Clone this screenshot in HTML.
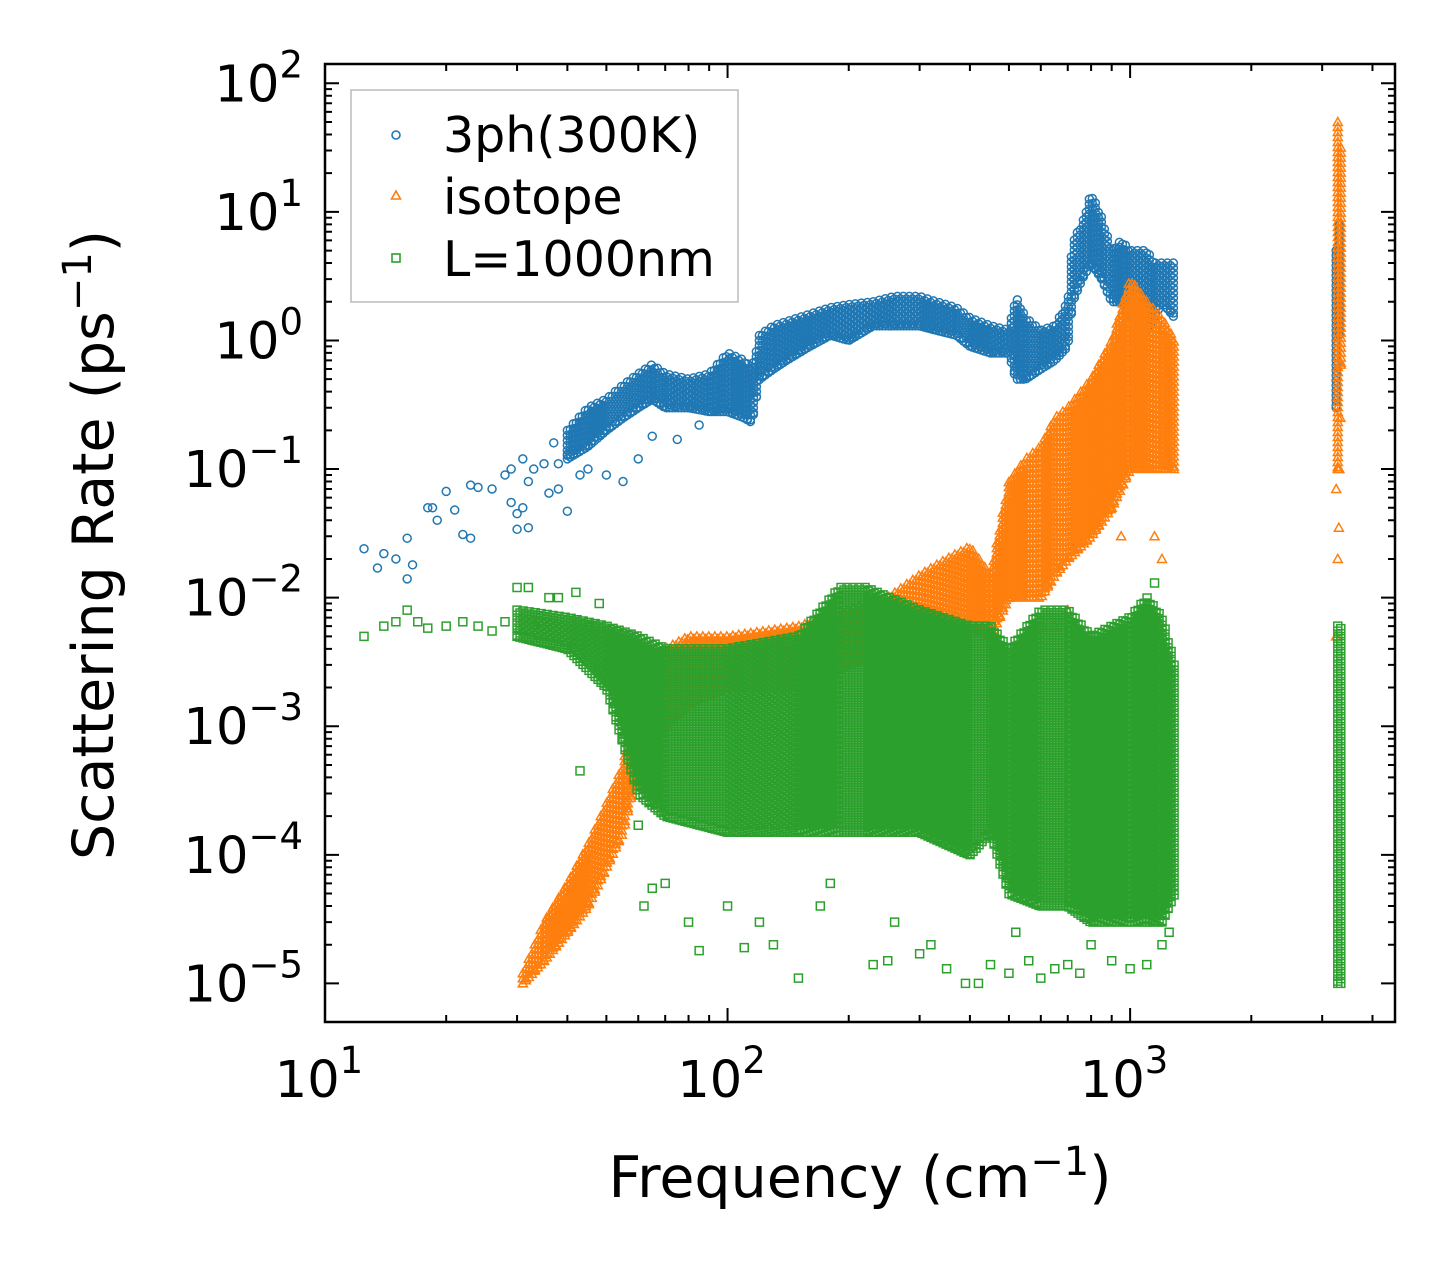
<!DOCTYPE html>
<html><head><meta charset="utf-8">
<style>
html,body{margin:0;padding:0;background:#fff;}
svg{display:block;font-family:"DejaVu Sans","Liberation Sans",sans-serif;}
</style></head>
<body>
<svg id="chart" width="1455" height="1271" viewBox="0 0 1455 1271" xmlns="http://www.w3.org/2000/svg">
<rect width="1455" height="1271" fill="#fff"/>
<g id="marks"></g>
<g id="axes"></g>
<text x="860" y="1197" font-size="57" text-anchor="middle">Frequency (cm<tspan dy="-22" font-size="40">−1</tspan><tspan dy="22">)</tspan></text>
<text transform="translate(113,545) rotate(-90)" font-size="57" text-anchor="middle">Scattering Rate (ps<tspan dy="-22" font-size="40">−1</tspan><tspan dy="22">)</tspan></text>
<g>
<rect x="351" y="90" width="387" height="212" fill="#fff" stroke="#aaa" stroke-width="1.2"/>
<g>
<circle cx="396" cy="135" r="4" fill="none" stroke="#1f77b4" stroke-width="1.6"/>
<text x="443" y="152" font-size="49">3ph(300K)</text></g>
<g>
<path d="M396,191 L400.5,199 L391.5,199 Z" fill="none" stroke="#ff7f0e" stroke-width="1.6"/>
<text x="443" y="214" font-size="49">isotope</text></g>
<g>
<rect x="392" y="254" width="8" height="8" fill="none" stroke="#2ca02c" stroke-width="1.6"/>
<text x="443" y="276" font-size="49">L=1000nm</text></g>
</g>
</svg>
<script>
// ---- data ----
const blueSparseX=[12.5,13.5,14,15,16,16,16.5,18,18.5,19,20,21,22,23,23,24,26,28,29,29,30,30,31,31,32,32,33,35,36,37,38,38,40,40,42,43,45,50,55,60,65,75,85];
const blueSparseY=[0.024,0.017,0.022,0.02,0.029,0.014,0.018,0.05,0.05,0.04,0.067,0.048,0.031,0.029,0.075,0.072,0.07,0.09,0.1,0.055,0.034,0.045,0.12,0.05,0.035,0.08,0.1,0.11,0.065,0.16,0.11,0.07,0.13,0.047,0.14,0.09,0.1,0.09,0.08,0.12,0.18,0.17,0.22];
const blueBandX=[40,45,50,55,60,65,70,80,90,100,110,115,120,130,140,160,180,200,230,260,300,330,370,400,450,500,520,550,600,650,700,720,760,800,850,900,950,1000,1050,1100,1150,1200,1290];
const blueLow=[0.12,0.15,0.2,0.25,0.3,0.35,0.3,0.3,0.28,0.28,0.25,0.23,0.5,0.6,0.7,0.9,1.1,1.0,1.3,1.3,1.3,1.2,1.1,0.9,0.8,0.8,0.5,0.5,0.6,0.7,0.9,2,3,4,3,2,2,1.5,2,1.2,1.5,2,1.5];
const blueHigh=[0.2,0.3,0.35,0.45,0.55,0.65,0.55,0.5,0.55,0.8,0.7,0.6,1.1,1.3,1.4,1.6,1.8,1.9,2.0,2.2,2.2,2.0,1.8,1.5,1.3,1.2,2.2,1.5,1.2,1.3,2.0,6,8,14,9,5,6,5,5,5,4,4,4];
const blueHiX=[3250,3350];const blueHiLow=[0.3,3];const blueHiHigh=[5,12];

const orangeBandX=[31,35,40,45,50,55,60,70,80,100,150,200,250,300,350,400,450,500,550,600,650,700,800,900,1000,1100,1200,1290];
const orangeLow=[1e-5,1.5e-5,2.5e-5,4e-5,8e-5,1.5e-4,5e-4,1e-3,1.5e-3,2e-3,2e-3,3e-3,4e-3,5e-3,6e-3,6e-3,5e-3,1e-2,1e-2,1e-2,1.5e-2,0.02,0.03,0.05,0.1,0.1,0.1,0.1];
const orangeHigh=[1.2e-5,3e-5,6e-5,1.2e-4,2.5e-4,5e-4,2e-3,4e-3,5e-3,5e-3,6e-3,8e-3,1e-2,1.5e-2,2e-2,2.5e-2,1.5e-2,0.08,0.12,0.15,0.25,0.3,0.5,1,3,2,1.5,1];
const orangeHiX=[3280,3350];const orangeHiLow=[0.1,1];const orangeHiHigh=[50,30];
const orangeSparseX=[3250,3280,3300,3250,3330,3310,1150,1200,900,950,700,650,600];
const orangeSparseY=[0.005,0.02,0.035,0.07,0.25,0.1,0.03,0.02,0.05,0.03,0.008,0.006,0.006];

const greenSparseX=[12.5,14,15,16,17,18,20,22,24,26,28,30,32,34,36,38,40,42,43,45,48,50,52,55,60,62,65,70,80,85,100,110,120,130,150,170,180,230,250,260,300,320,350,390,420,450,500,520,560,600,650,700,750,800,900,1000,1100,1150,1200,1250];
const greenSparseY=[0.005,0.006,0.0065,0.008,0.0065,0.0058,0.006,0.0065,0.006,0.0055,0.0065,0.012,0.012,0.0065,0.01,0.01,0.0045,0.011,0.00045,0.006,0.009,0.003,0.0015,0.0008,0.00017,4e-5,5.5e-5,6e-5,3e-5,1.8e-5,4e-5,1.9e-5,3e-5,2e-5,1.1e-5,4e-5,6e-5,1.4e-5,1.5e-5,3e-5,1.7e-5,2e-5,1.3e-5,1e-5,1e-5,1.4e-5,1.2e-5,2.5e-5,1.5e-5,1.1e-5,1.3e-5,1.4e-5,1.2e-5,2e-5,1.5e-5,1.3e-5,1.4e-5,0.013,2e-5,2.5e-5];
const greenBandX=[30,40,50,60,70,100,150,190,220,300,400,450,500,600,700,800,900,1000,1100,1200,1290];
const greenLow=[0.005,0.004,0.002,3e-4,2e-4,1.5e-4,1.5e-4,1.5e-4,1.5e-4,1.5e-4,1e-4,1.5e-4,5e-5,4e-5,4e-5,3e-5,3e-5,3e-5,3e-5,3e-5,5e-5];
const greenHigh=[0.008,0.007,0.006,0.005,0.004,0.004,0.005,0.012,0.012,0.008,0.006,0.006,0.004,0.008,0.008,0.005,0.006,0.007,0.01,0.007,0.003];
const greenHiX=[3280,3350];const greenHiLow=[1e-5,1e-5];const greenHiHigh=[0.006,0.006];

const xTickVals=[10,100,1000];const xTickExp=["1","2","3"];
const yTickVals=[100,10,1,0.1,0.01,0.001,1e-4,1e-5];const yTickExp=["2","1","0","−1","−2","−3","−4","−5"];

// ---- axes ----
const L=325,R=1395,T=64,B=1022;
const xMin=Math.log10(10),xMax=Math.log10(4550);
const yMin=-5.3,yMax=2.15;
function X(v){return L+(Math.log10(v)-xMin)/(xMax-xMin)*(R-L);}
function Y(v){return B-(Math.log10(v)-yMin)/(yMax-yMin)*(B-T);}
const NS="http://www.w3.org/2000/svg";
const marks=document.getElementById('marks'),axes=document.getElementById('axes');
function el(t,a,p){const e=document.createElementNS(NS,t);for(const k in a)e.setAttribute(k,a[k]);p.appendChild(e);return e;}

function markerPath(kind,x,y){
  if(kind==='c'){const r=4;return `M${x-r},${y}a${r},${r} 0 1,0 ${2*r},0a${r},${r} 0 1,0 ${-2*r},0`;}
  if(kind==='t'){return `M${x},${y-4.5}L${x+4.5},${y+3.5}L${x-4.5},${y+3.5}Z`;}
  return `M${x-4},${y-4}h8v8h-8Z`;
}
function interp(xs,vs,x){
  const lx=Math.log10(x);
  if(lx<=Math.log10(xs[0]))return vs[0];
  for(let i=0;i<xs.length-1;i++){
    const a=Math.log10(xs[i]),b=Math.log10(xs[i+1]);
    if(lx>=a&&lx<=b){const t=(lx-a)/(b-a);return Math.pow(10,Math.log10(vs[i])*(1-t)+Math.log10(vs[i+1])*t);}
  }
  return vs[vs.length-1];
}
function series(name,color,kind,bandX,low,high,spX,spY,step){
  let d='';
  const px0=X(bandX[0]),px1=X(bandX[bandX.length-1]);
  let col=0;
  for(let px=px0;px<=px1+0.01;px+=step){
    const f=Math.pow(10,xMin+(px-L)/(R-L)*(xMax-xMin));
    const y1=Y(interp(bandX,low,f)),y2=Y(interp(bandX,high,f));
    const off=(col%2)*2.5;
    for(let y=y2+off;y<=y1;y+=5)d+=markerPath(kind,px,y);
    d+=markerPath(kind,px,y1);
    col++;
  }
  if(spX)for(let i=0;i<spX.length;i++)d+=markerPath(kind,X(spX[i]),Y(spY[i]));
  const p=el('path',{d:d,fill:'none',stroke:color,'stroke-width':1.5},marks);
  
  
}
series('series-3ph','#1f77b4','c',blueBandX,blueLow,blueHigh,blueSparseX,blueSparseY,3);
series('series-3ph-high','#1f77b4','c',blueHiX,blueHiLow,blueHiHigh,null,null,3);
series('series-isotope','#ff7f0e','t',orangeBandX,orangeLow,orangeHigh,orangeSparseX,orangeSparseY,3);
series('series-isotope-high','#ff7f0e','t',orangeHiX,orangeHiLow,orangeHiHigh,null,null,3);
series('series-boundary','#2ca02c','s',greenBandX,greenLow,greenHigh,greenSparseX,greenSparseY,3);
series('series-boundary-high','#2ca02c','s',greenHiX,greenHiLow,greenHiHigh,null,null,3);

// frame & ticks
const fr=el('rect',{x:L,y:T,width:R-L,height:B-T,fill:'none',stroke:'#000','stroke-width':2.5},axes);


let td='';
for(let e=1;e<=3;e++)for(let m=1;m<10;m++){
  const v=m*Math.pow(10,e);if(v>4550)break;
  const x=X(v),len=m===1?14:7;
  td+=`M${x},${B}v${-len}M${x},${T}v${len}`;
}
for(let e=-5;e<=2;e++)for(let m=1;m<10;m++){
  const v=m*Math.pow(10,e);const lv=Math.log10(v);if(lv<yMin||lv>yMax)continue;
  const y=Y(v),len=m===1?14:7;
  td+=`M${L},${y}h${len}M${R},${y}h${-len}`;
}
const tk=el('path',{d:td,stroke:'#000','stroke-width':2,fill:'none'},axes);


xTickVals.forEach((v,i)=>{
  const t=el('text',{x:X(v)-6,y:1097,'font-size':51,'text-anchor':'middle'},axes);
  
  
  t.innerHTML=`10<tspan dy="-24" font-size="37">${xTickExp[i]}</tspan>`;
});
yTickVals.forEach((v,i)=>{
  const t=el('text',{x:303,y:Y(v)+18,'font-size':51,'text-anchor':'end'},axes);
  
  
  t.innerHTML=`10<tspan dy="-24" font-size="37">${yTickExp[i]}</tspan>`;
});
</script>
</body></html>
